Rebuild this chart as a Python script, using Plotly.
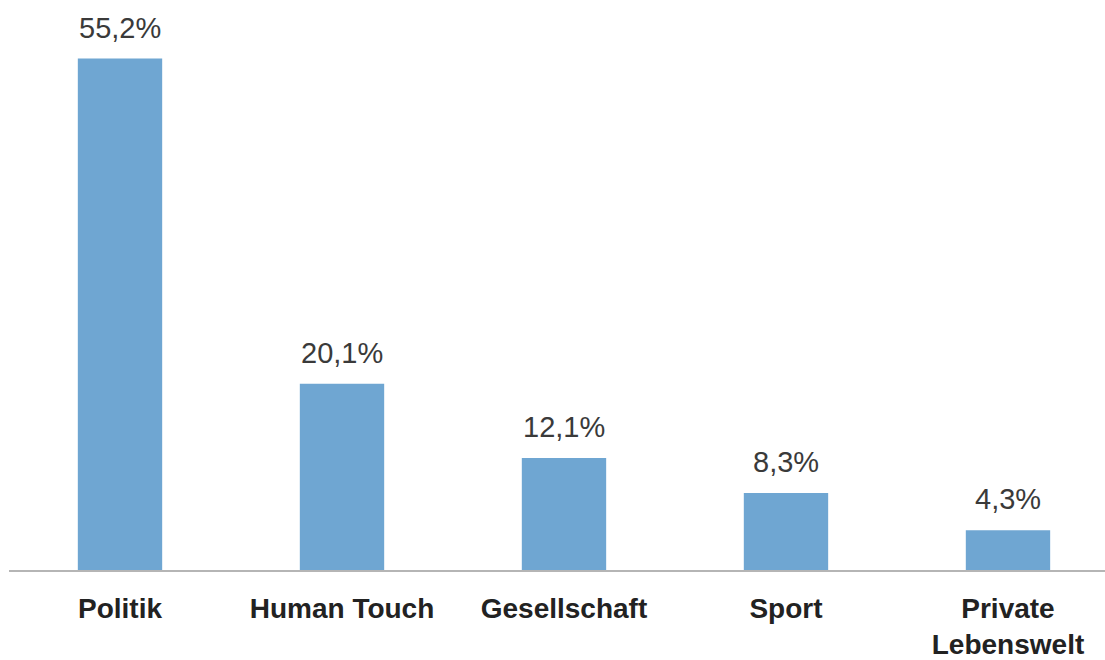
import plotly.graph_objects as go

categories = ["Politik", "Human Touch", "Gesellschaft", "Sport", "Private<br>Lebenswelt"]
values = [55.2, 20.1, 12.1, 8.3, 4.3]
labels = ["55,2%", "20,1%", "12,1%", "8,3%", "4,3%"]

fig = go.Figure()
fig.add_trace(go.Bar(
    x=categories, y=values, width=0.38,
    marker=dict(color="#6FA6D2", line=dict(width=0)),
    hoverinfo="skip",
))

for c, v, t in zip(categories, values, labels):
    fig.add_annotation(x=c, y=v, text=t, showarrow=False, yanchor="bottom",
                       yshift=13, font=dict(family="Liberation Sans, Arial", size=29, color="#3A3A3A"))

fig.update_layout(
    width=1105, height=660,
    margin=dict(l=9, r=0, t=15, b=90),
    paper_bgcolor="white", plot_bgcolor="white",
    showlegend=False,
    xaxis=dict(range=[-0.5, 4.437], showgrid=False, showline=True, linecolor="#B5B5B5",
               linewidth=2, ticks="", ticklabelstandoff=12, automargin=False,
               tickfont=dict(family="Liberation Sans, Arial", size=28, color="#222222", weight="bold")),
    yaxis=dict(range=[0, 59.9], visible=False, automargin=False),
)

fig.write_html("out.html")
